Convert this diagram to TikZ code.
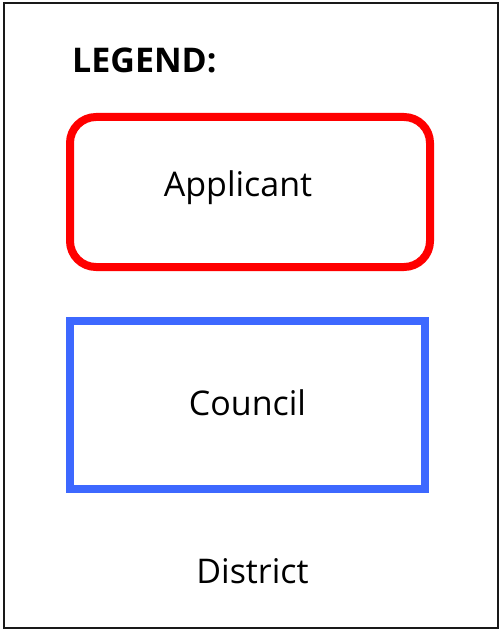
\documentclass[tikz,border=0pt]{standalone}
\usepackage{fontspec}
\setmainfont{Open Sans}
\usepackage{tikz}
\usetikzlibrary{positioning}
\definecolor{legendred}{RGB}{255,0,0}
\definecolor{legendblue}{RGB}{61,104,255}

\begin{document}
\begin{tikzpicture}[x=1pt, y=-1pt,
    every node/.style={font=\fontsize{34}{40}\selectfont, inner sep=0pt},
    applicantbox/.style={draw=legendred, line width=8pt, rounded corners=26pt},
    councilbox/.style={draw=legendblue, line width=8pt}]

\useasboundingbox (0,0) rectangle (502,631);

\draw[line width=2pt, draw=black!90] (4,3) rectangle (498,628);

\node[anchor=base west, font=\fontsize{34}{40}\selectfont\bfseries] (legend) at (72,72.5) {LEGEND:};

\draw[applicantbox] (70,117) rectangle (430,267);
\node[anchor=base] (applicant) at (238,196) {Applicant};

\draw[councilbox] (70,321) rectangle (425,489);
\node[anchor=base] (council) at (247.5,415) {Council};

\node[anchor=base] (district) at (252.5,583) {District};

\end{tikzpicture}
\end{document}
